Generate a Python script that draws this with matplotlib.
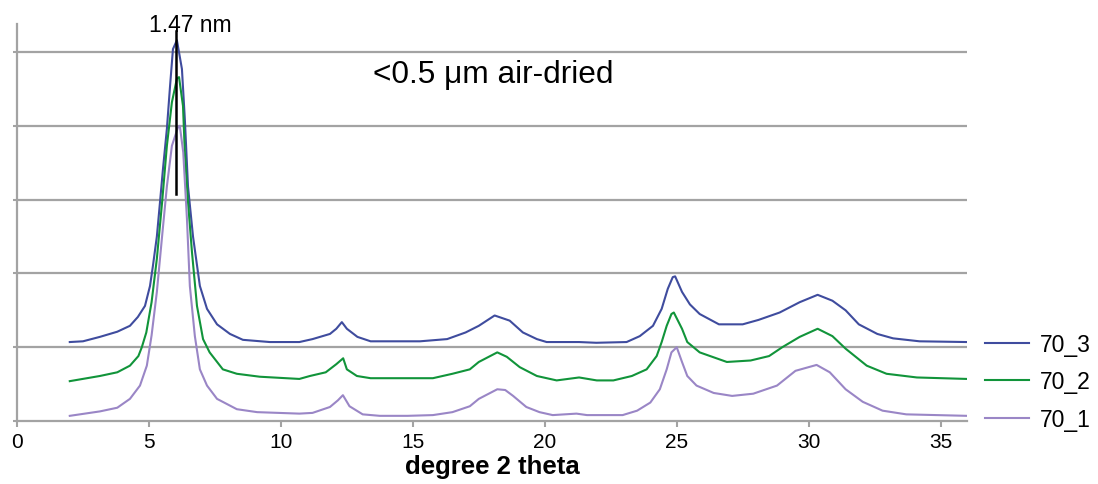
import numpy as np
import matplotlib
matplotlib.use("Agg")
import matplotlib.pyplot as plt

plt.rcParams['font.family'] = ['Liberation Sans', 'DejaVu Sans']

# XRD scans (degree 2 theta vs. offset intensity, arbitrary units)
x_70_3 = [2.0, 2.5, 3.14, 3.8, 4.28, 4.58, 4.85, 5.04, 5.15, 5.3, 5.42, 5.53, 5.68, 5.8,
          5.91, 6.06, 6.25, 6.36, 6.48, 6.67, 6.93, 7.2, 7.58, 8.07, 8.56, 9.58, 10.7,
          11.2, 11.86, 12.1, 12.31, 12.5, 12.9, 13.4, 15.27, 16.3, 17.0, 17.5, 18.1,
          18.67, 19.17, 19.7, 20.07, 21.3, 21.95, 23.1, 23.6, 24.1, 24.43, 24.66, 24.85,
          24.94, 25.2, 25.5, 25.87, 26.6, 27.1, 27.5, 28.1, 28.9, 29.66, 30.34, 30.9,
          31.4, 31.9, 32.6, 33.2, 34.2, 36.0]
y_70_3 = [1.07, 1.08, 1.14, 1.21, 1.29, 1.41, 1.56, 1.83, 2.10, 2.5, 2.97, 3.41, 3.96, 4.54,
          5.04, 5.16, 4.77, 4.09, 3.18, 2.5, 1.83, 1.52, 1.31, 1.18, 1.10, 1.07, 1.07,
          1.11, 1.18, 1.25, 1.34, 1.25, 1.14, 1.08, 1.08, 1.11, 1.2, 1.29, 1.43,
          1.36, 1.2, 1.11, 1.07, 1.07, 1.06, 1.07, 1.15, 1.29, 1.52, 1.79, 1.95,
          1.96, 1.75, 1.58, 1.45, 1.31, 1.31, 1.31, 1.37, 1.47, 1.61, 1.71, 1.63,
          1.5, 1.31, 1.18, 1.12, 1.08, 1.07]

x_70_2 = [2.0, 3.14, 3.8, 4.28, 4.6, 4.73, 4.9, 5.1, 5.3, 5.5, 5.68, 5.87, 6.06, 6.14,
          6.29, 6.36, 6.48, 6.63, 6.82, 7.05, 7.3, 7.8, 8.33, 9.2, 10.7, 11.1, 11.7,
          12.1, 12.36, 12.5, 12.88, 13.4, 15.76, 16.5, 17.16, 17.5, 18.2, 18.56, 19.05,
          19.7, 20.45, 21.3, 21.97, 22.6, 23.3, 23.86, 24.24, 24.43, 24.62, 24.8, 24.89,
          25.2, 25.4, 25.87, 26.9, 27.8, 28.5, 29.0, 29.66, 30.34, 30.9, 31.4, 32.2,
          32.95, 34.1, 36.0]
y_70_2 = [0.54, 0.61, 0.66, 0.75, 0.88, 1.0, 1.2, 1.61, 2.2, 2.97, 3.73, 4.32, 4.64, 4.66,
          4.27, 3.64, 2.97, 2.29, 1.56, 1.11, 0.93, 0.70, 0.64, 0.60, 0.57, 0.61, 0.66,
          0.77, 0.85, 0.7, 0.61, 0.58, 0.58, 0.64, 0.7, 0.8, 0.93, 0.87, 0.73,
          0.61, 0.55, 0.59, 0.55, 0.55, 0.61, 0.7, 0.88, 1.07, 1.29, 1.45, 1.47,
          1.25, 1.07, 0.93, 0.8, 0.82, 0.88, 1.0, 1.14, 1.25, 1.15, 0.98, 0.75,
          0.64, 0.59, 0.57]

x_70_1 = [2.0, 3.14, 3.8, 4.28, 4.66, 4.92, 5.1, 5.3, 5.5, 5.68, 5.87, 6.1, 6.17, 6.3,
          6.44, 6.55, 6.74, 6.93, 7.2, 7.58, 8.33, 9.1, 10.7, 11.2, 11.86, 12.16, 12.35,
          12.6, 13.1, 13.75, 14.8, 15.76, 16.5, 17.16, 17.5, 18.2, 18.5, 18.8, 19.3,
          19.8, 20.3, 21.2, 21.6, 22.95, 23.5, 24.0, 24.36, 24.62, 24.8, 25.0, 25.2,
          25.4, 25.75, 26.4, 27.1, 27.9, 28.8, 29.5, 30.3, 30.8, 31.4, 32.05, 32.8,
          33.7, 36.0]
y_70_1 = [0.07, 0.13, 0.18, 0.3, 0.48, 0.75, 1.16, 1.75, 2.51, 3.18, 3.73, 3.98, 4.0, 3.64,
          2.74, 1.83, 1.15, 0.70, 0.48, 0.3, 0.16, 0.12, 0.1, 0.11, 0.19, 0.28, 0.35,
          0.2, 0.09, 0.07, 0.07, 0.08, 0.12, 0.2, 0.3, 0.43, 0.42, 0.34, 0.19,
          0.12, 0.08, 0.1, 0.08, 0.08, 0.14, 0.25, 0.43, 0.7, 0.93, 1.0, 0.8,
          0.61, 0.48, 0.38, 0.34, 0.37, 0.48, 0.68, 0.76, 0.66, 0.43, 0.26, 0.14,
          0.09, 0.07]

series_labels = ["70_3", "70_2", "70_1"]
series_colors = ["#3f4c9e", "#11943a", "#9a86c6"]

x_ticks = [0, 5, 10, 15, 20, 25, 30, 35]
y_ticks = [0, 1, 2, 3, 4, 5]

# basal spacing marker (nm), Cu K-alpha wavelength (nm)
d_spacing = 1.47
wavelength = 0.15406
two_theta_d = 2 * np.degrees(np.arcsin(wavelength / (2 * d_spacing)))

fig = plt.figure(figsize=(10.98, 4.85), dpi=100)
ax = fig.add_axes([17 / 1098, 1 - 422 / 485, 950 / 1098, 397 / 485])

grid_col = "#a3a3a3"
for yv in y_ticks[1:]:
    ax.axhline(yv, color=grid_col, lw=1.6, zorder=1)

xs = [x_70_3, x_70_2, x_70_1]
ys = [y_70_3, y_70_2, y_70_1]
for xv, yv, lab, col in zip(xs, ys, series_labels, series_colors):
    ax.plot(xv, yv, color=col, lw=1.5, label=lab, zorder=3,
            solid_joinstyle="round")

ax.plot([two_theta_d, two_theta_d], [3.08, 5.28], color="black", lw=1.8, zorder=4,
        clip_on=False)
ax.text(two_theta_d + 0.55, 5.38, f"{d_spacing:.2f} nm", ha="center", va="center",
        fontsize=16.5, color="black", clip_on=False)

ax.text(13.5, 4.7, "<0.5 \u03bcm air-dried", ha="left", va="center", fontsize=22.8,
        color="black")

ax.set_xlim(0, 36)
ax.set_ylim(0, 5.38)
ax.set_xticks(x_ticks)
ax.set_yticks(y_ticks)
ax.set_yticklabels([])
ax.tick_params(axis="x", length=4, width=1.5, color=grid_col, labelsize=15, pad=4)
ax.tick_params(axis="y", length=3, width=1.5, color=grid_col)

for side in ["top", "right"]:
    ax.spines[side].set_visible(False)
for side in ["left", "bottom"]:
    ax.spines[side].set_color(grid_col)
    ax.spines[side].set_linewidth(1.6)

ax.set_xlabel("degree 2 theta", fontsize=18.5, fontweight="bold", labelpad=2)

ax.legend(loc="center left", bbox_to_anchor=(985 / 1098, 1 - 383 / 485),
          bbox_transform=fig.transFigure, frameon=False, fontsize=16.5,
          handlelength=1.9, handletextpad=0.5, labelspacing=0.62,
          borderpad=0, borderaxespad=0)

fig.savefig("out.png", dpi=100)
